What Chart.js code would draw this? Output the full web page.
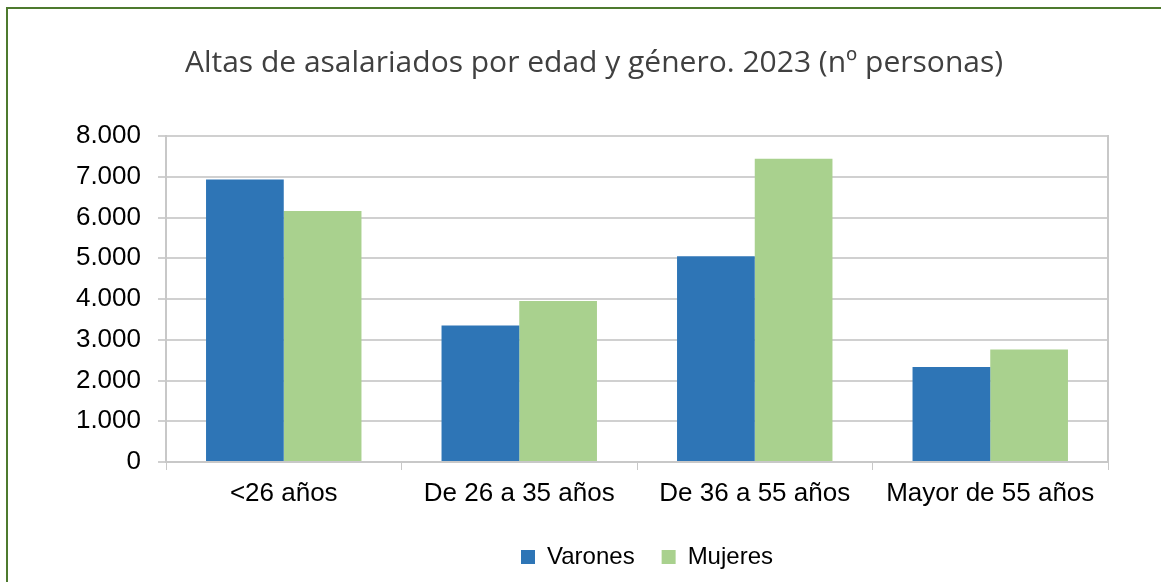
<!DOCTYPE html>
<html lang="es">
<head>
  <meta charset="UTF-8">
  <title>Altas de asalariados por edad y género</title>
  <script src="https://cdn.jsdelivr.net/npm/chart.js"></script>
  <style>
    body { margin: 0; background: #fff; }
    #marco { position: absolute; left: 6px; top: 7px; width: 1300px; height: 700px; border: 2px solid #4e7a2e; }
    #grafico { position: absolute; left: 0; top: 0; }
  </style>
</head>
<body>
<div id="marco"></div>
<canvas id="grafico" width="1161" height="582"></canvas>

<script>
  // Datos
  const categorias = ["<26 años", "De 26 a 35 años", "De 36 a 55 años", "Mayor de 55 años"];
  const varones = [6930, 3350, 5050, 2330];
  const mujeres = [6160, 3950, 7440, 2760];
  const ticksY = [0, 1000, 2000, 3000, 4000, 5000, 6000, 7000, 8000];

  function formatoMiles(v) {
    return v.toString().replace(/\B(?=(\d{3})+(?!\d))/g, ".");
  }

  const fuente = "'Liberation Sans', Arial, sans-serif";

  // la leyenda del original está algo desplazada a la derecha
  const moverLeyenda = {
    id: "moverLeyenda",
    afterLayout(chart) {
      chart.legend.left += 53;
      chart.legend.right += 53;
    }
  };

  new Chart(document.getElementById("grafico"), {
    type: "bar",
    data: {
      labels: categorias,
      datasets: [
        { label: "Varones", data: varones, backgroundColor: "#2E75B6", borderWidth: 0 },
        { label: "Mujeres", data: mujeres, backgroundColor: "#A9D18E", borderWidth: 0 }
      ]
    },
    plugins: [moverLeyenda],
    options: {
      responsive: false,
      animation: false,
      layout: { padding: { left: 27, right: 0, top: 0, bottom: 3 } },
      datasets: { bar: { categoryPercentage: 0.66, barPercentage: 1.0 } },
      plugins: {
        title: {
          display: true,
          text: "Altas de asalariados por edad y género. 2023 (nº personas)",
          color: "#404040",
          font: { family: "'Open Sans', sans-serif", size: 30, weight: "normal", lineHeight: 1.2 },
          padding: { top: 45, bottom: 55 }
        },
        legend: {
          position: "bottom",
          labels: {
            color: "#000",
            font: { family: fuente, size: 24 },
            boxWidth: 14,
            boxHeight: 14,
            padding: 27
          }
        },
        tooltip: { enabled: false }
      },
      scales: {
        x: {
          grid: { drawOnChartArea: false, drawTicks: true, tickLength: 8, color: "#C8C8C8" },
          border: { color: "#C8C8C8", width: 2 },
          ticks: { color: "#000", font: { family: fuente, size: 26 }, padding: 8, maxRotation: 0 },
          afterFit: s => { s.height = 56; }
        },
        y: {
          min: 0,
          max: 8000,
          afterBuildTicks: s => { s.ticks = ticksY.map(v => ({ value: v })); },
          grid: { color: "#D0D0D0", lineWidth: 2, tickLength: 8 },
          border: { color: "#C8C8C8", width: 2 },
          ticks: { color: "#000", font: { family: fuente, size: 26 }, padding: 17, callback: v => formatoMiles(v) },
          afterFit: s => { s.width = 139; }
        },
        yDer: {
          position: "right",
          min: 0,
          max: 8000,
          grid: { drawOnChartArea: false, drawTicks: false },
          border: { color: "#C8C8C8", width: 2 },
          ticks: { display: false },
          afterFit: s => { s.width = 53; }
        }
      }
    }
  });
</script>
</body>
</html>
